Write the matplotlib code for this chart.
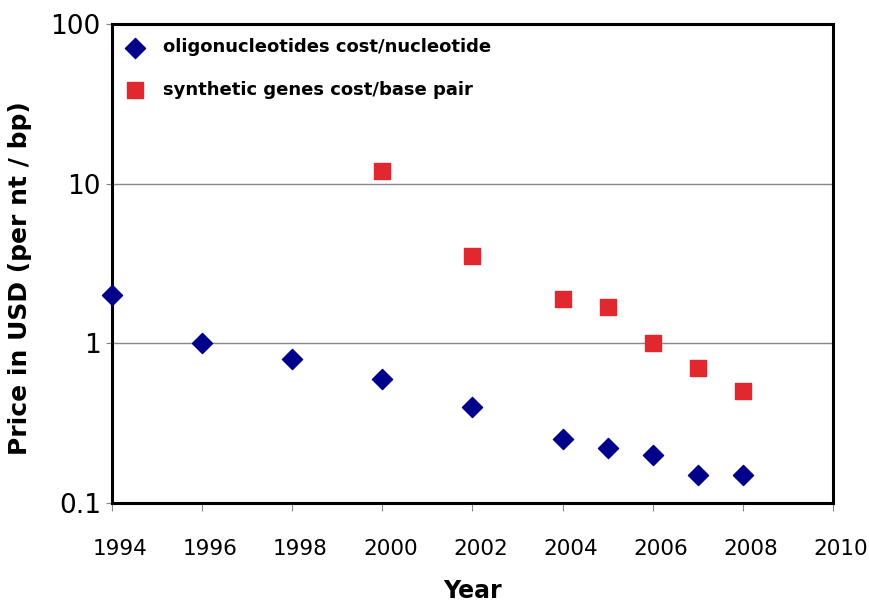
import matplotlib
matplotlib.use("Agg")
import matplotlib.pyplot as plt
from matplotlib.ticker import FixedLocator, FixedFormatter
import matplotlib.transforms as mtransforms

years_oligo = [1994, 1996, 1998, 2000, 2002, 2004, 2005, 2006, 2007, 2008]
cost_oligo = [2.0, 1.0, 0.8, 0.6, 0.4, 0.25, 0.22, 0.2, 0.15, 0.15]
years_genes = [2000, 2002, 2004, 2005, 2006, 2007, 2008]
cost_genes = [12, 3.5, 1.9, 1.7, 1.0, 0.7, 0.5]
x_ticks = [1994, 1996, 1998, 2000, 2002, 2004, 2006, 2008, 2010]
y_ticks = [0.1, 1, 10, 100]
y_tick_labels = ["0.1", "1", "10", "100"]

plt.rcParams['font.family'] = ['DejaVu Sans']
fig = plt.figure(figsize=(8.70, 6.06), dpi=100)
ax = fig.add_axes([0.1287, 0.170, 0.9575 - 0.1287, 0.9604 - 0.170])

ax.scatter(years_oligo, cost_oligo, marker='D', s=105, color='#00008B',
           label='oligonucleotides cost/nucleotide', zorder=3, clip_on=False)
ax.scatter(years_genes, cost_genes, marker='s', s=125, color='#E0282E',
           label='synthetic genes cost/base pair', zorder=3, clip_on=False)

ax.set_yscale('log')
ax.set_ylim(0.1, 100)
ax.set_xlim(1994, 2010)
ax.yaxis.set_major_locator(FixedLocator(y_ticks))
ax.yaxis.set_major_formatter(FixedFormatter(y_tick_labels))
ax.yaxis.set_minor_locator(FixedLocator([]))
ax.set_xticks(x_ticks)
ax.set_xticklabels([str(y) for y in x_ticks])

for v in [1, 10]:
    ax.axhline(v, color='#888888', lw=1.0, zorder=1)

for s in ax.spines.values():
    s.set_linewidth(2.2)
    s.set_color('black')

ax.tick_params(axis='y', which='major', length=4, width=0.8, color='#888888',
               labelsize=19, pad=4)
ax.tick_params(axis='x', which='major', length=6, width=0.8, color='#888888',
               labelsize=15.5, pad=20)
offset = mtransforms.ScaledTranslation(8/100, 0, fig.dpi_scale_trans)
for lbl in ax.get_xticklabels():
    lbl.set_transform(lbl.get_transform() + offset)

ax.set_ylabel('Price in USD (per nt / bp)', fontsize=18, fontweight='bold')
ax.yaxis.set_label_coords(-0.111, 0.469)
ax.set_xlabel('Year', fontsize=17, fontweight='bold', labelpad=14)

leg = ax.legend(loc='upper left', frameon=False,
                prop={'weight': 'bold', 'size': 13}, handletextpad=1.0,
                labelspacing=1.35, borderaxespad=0.3, handlelength=1.0,
                borderpad=0.5)

fig.savefig('out.png', dpi=100)
